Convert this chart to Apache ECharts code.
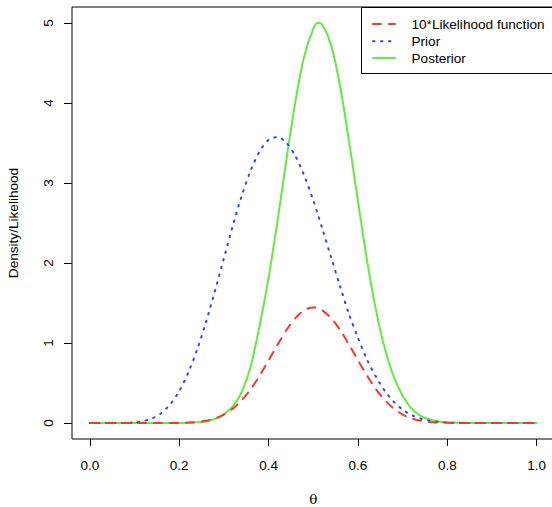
<!DOCTYPE html>
<html><head><meta charset="utf-8">
<script src="https://cdn.jsdelivr.net/npm/echarts@6/dist/echarts.min.js"></script>
<style>html,body{margin:0;padding:0;background:#fff}#c{width:552px;height:507px}</style>
</head><body><div id="c"></div>
<script>
const theta = [0,0.02,0.04,0.06,0.08,0.10,0.12,0.14,0.16,0.18,0.20,0.22,0.24,0.26,0.28,0.30,0.32,0.34,0.36,0.38,0.40,0.42,0.44,0.46,0.48,0.50,0.51,0.52,0.54,0.56,0.58,0.60,0.62,0.64,0.66,0.68,0.70,0.72,0.74,0.76,0.78,0.80,0.82,0.84,0.86,0.88,0.90,0.92,0.94,0.96,0.98,1.00];
const likelihood10 = [0,0,0,0,0,0,0,0,0,0.0005,0.0018,0.0051,0.0128,0.0284,0.0572,0.1055,0.180,0.286,0.424,0.593,0.783,0.979,1.162,1.311,1.409,1.445,1.438,1.409,1.311,1.162,0.979,0.783,0.593,0.424,0.286,0.180,0.1055,0.0572,0.0284,0.0128,0.0051,0.0018,0.0005,0,0,0,0,0,0,0,0,0];
const prior = [0,0,0,0.0003,0.0018,0.0076,0.024,0.059,0.125,0.235,0.400,0.627,0.918,1.264,1.652,2.062,2.467,2.843,3.158,3.397,3.539,3.575,3.500,3.337,3.089,2.781,2.609,2.433,2.067,1.707,1.357,1.065,0.795,0.580,0.402,0.266,0.167,0.099,0.056,0.029,0.014,0.0063,0.0025,0.0009,0.0003,0,0,0,0,0,0,0];
const posterior = [0,0,0,0,0,0,0,0,0,0,0.001,0.003,0.008,0.02,0.05,0.11,0.21,0.39,0.71,1.22,1.82,2.53,3.30,4.02,4.59,4.93,5.00,4.98,4.72,4.21,3.52,2.77,2.04,1.42,0.93,0.58,0.34,0.18,0.09,0.043,0.019,0.008,0.003,0.001,0,0,0,0,0,0,0,0];
const xTicks = [0,0.2,0.4,0.6,0.8,1.0];
const yTicks = [0,1,2,3,4,5];
const seriesNames = ['10*Likelihood function','Prior','Posterior'];
const seriesValues = [likelihood10, prior, posterior];
const seriesColors = ['#f03a2e','#2a48f0','#66e844'];
const seriesDash = [[8,8],[1.5,6.5],'solid'];

const FONT = '"Liberation Sans", Arial, Helvetica, sans-serif';
const chart = echarts.init(document.getElementById('c'), null, {renderer:'svg'});

// legend drawn as graphic (R-style line samples)
const legendRows = [24, 41.3, 58];
const legendGraphic = [{
  type:'rect', shape:{x:361.5, y:7.5, width:200, height:66},
  style:{fill:'#fff', stroke:'#000', lineWidth:1}, z:10
}];
seriesNames.forEach((n,k)=>{
  legendGraphic.push({
    type:'line', shape:{x1:373, y1:legendRows[k], x2:395, y2:legendRows[k]},
    style:{stroke:seriesColors[k], lineWidth:2, lineDash: seriesDash[k]==='solid'?null:seriesDash[k], lineCap:'round'}, z:11
  });
  legendGraphic.push({
    type:'text', x:411.5, y:legendRows[k],
    style:{text:n, fill:'#000', font:'13.6px '+FONT, textVerticalAlign:'middle', verticalAlign:'middle'}, z:11
  });
});

chart.setOption({
  backgroundColor:'#fff',
  animation:false,
  grid:{left:72, top:7, width:482.6, height:432, show:true, borderColor:'#000', borderWidth:1,
        backgroundColor:'transparent', containLabel:false, outerBoundsMode:'none'},
  xAxis:{
    type:'value', min:-0.04, max:1.04,
    name:'θ', nameLocation:'middle', nameGap:53,
    nameTextStyle:{fontFamily:'"DejaVu Serif", "Liberation Serif", serif', fontSize:13.5, color:'#000'},
    axisLine:{show:false, onZero:false},
    splitLine:{show:false},
    axisTick:{show:true, customValues:xTicks, length:7, inside:false, lineStyle:{color:'#000', width:1}},
    axisLabel:{customValues:xTicks, formatter:v=>v.toFixed(1), fontSize:13.5, color:'#000', fontFamily:FONT, margin:19}
  },
  yAxis:{
    type:'value', min:-0.2, max:5.2,
    name:'Density/Likelihood', nameLocation:'middle', nameGap:52,
    nameTextStyle:{fontFamily:FONT, fontSize:13.6, color:'#000'},
    axisLine:{show:false, onZero:false},
    splitLine:{show:false},
    axisTick:{show:true, customValues:yTicks, length:8, inside:false, lineStyle:{color:'#000', width:1}},
    axisLabel:{customValues:yTicks, rotate:90, fontSize:13.5, color:'#000', fontFamily:FONT, margin:17}
  },
  graphic: legendGraphic,
  series: seriesNames.map((n,k)=>({
    name:n, type:'line', showSymbol:false, symbol:'none', smooth:0.3,
    data: theta.map((t,i)=>[t, seriesValues[k][i]]),
    lineStyle:{color:seriesColors[k], width:2, type:seriesDash[k], cap:'round'},
    itemStyle:{color:seriesColors[k]},
    z: 3-k
  }))
});
</script></body></html>
